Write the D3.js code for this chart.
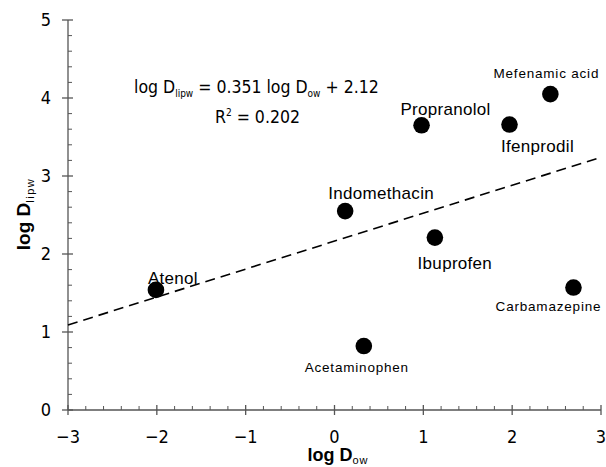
<!DOCTYPE html>
<html>
<head>
<meta charset="utf-8">
<script src="https://cdn.jsdelivr.net/npm/d3@7"></script>
<style>
  body { margin: 0; background: #fff; }
  svg { display: block; }
  .narrow { font-family: "Liberation Sans Narrow", "DejaVu Sans Condensed", "Liberation Sans", sans-serif; }
</style>
</head>
<body>
<div id="chart"></div>
<script>
// drugs, log Dow vs log Dlipw
const drugs = ["Atenol", "Indomethacin", "Acetaminophen", "Ibuprofen", "Propranolol", "Ifenprodil", "Mefenamic acid", "Carbamazepine"];
const logDow = [-2.01, 0.12, 0.33, 1.13, 0.98, 1.97, 2.43, 2.69];
const logDlipw = [1.54, 2.55, 0.82, 2.21, 3.65, 3.66, 4.05, 1.57];

// regression line end points (as drawn)
const fitX = [-3, 3];
const fitY = [1.09, 3.24];

const xTicks = [-3, -2, -1, 0, 1, 2, 3];
const yTicks = [0, 1, 2, 3, 4, 5];

// label placement relative to its dot: [dx, dy, big?]
const labelOffsets = [
  [17, -12, true],
  [36, -18, true],
  [-7, 21, false],
  [20, 25, true],
  [24, -16, true],
  [28, 22, true],
  [-4, -21, false],
  [-25, 19, false]
];

const width = 606, height = 467;
const svg = d3.select("#chart").append("svg")
  .attr("width", width)
  .attr("height", height);

const x = d3.scaleLinear().domain([-3, 3]).range([68, 601]);
const y = d3.scaleLinear().domain([0, 5]).range([410, 20]);

const axisColor = "#555";

// minor ticks (every 0.2), pointing inward
const minorX = d3.range(-3, 3.001, 0.2).filter(v => Math.abs(v - Math.round(v)) > 1e-6);
const minorY = d3.range(0, 5.001, 0.2).filter(v => Math.abs(v - Math.round(v)) > 1e-6);

const axes = svg.append("g").attr("stroke", axisColor).attr("stroke-width", 1.3);
axes.append("line").attr("x1", x(-3)).attr("x2", x(3)).attr("y1", y(0)).attr("y2", y(0));
axes.append("line").attr("x1", x(-3)).attr("x2", x(-3)).attr("y1", y(0)).attr("y2", y(5));

axes.selectAll(".xmaj").data(xTicks).enter().append("line")
  .attr("x1", d => x(d)).attr("x2", d => x(d))
  .attr("y1", y(0) - 5).attr("y2", y(0) + 5);
axes.selectAll(".xmin").data(minorX).enter().append("line")
  .attr("stroke-width", 1)
  .attr("x1", d => x(d)).attr("x2", d => x(d))
  .attr("y1", y(0) - 4).attr("y2", y(0));
axes.selectAll(".ymaj").data(yTicks).enter().append("line")
  .attr("x1", x(-3) - 6).attr("x2", x(-3) + 5)
  .attr("y1", d => y(d)).attr("y2", d => y(d));
axes.selectAll(".ymin").data(minorY).enter().append("line")
  .attr("stroke-width", 1)
  .attr("x1", x(-3)).attr("x2", x(-3) + 4)
  .attr("y1", d => y(d)).attr("y2", d => y(d));

// tick labels
svg.selectAll(".xlab").data(xTicks).enter().append("text")
  .attr("class", "narrow")
  .attr("x", d => x(d)).attr("y", 437).attr("dy", "0.35em")
  .attr("text-anchor", "middle").attr("font-size", 18)
  .text(d => d < 0 ? "\u2212" + Math.abs(d) : d);
svg.selectAll(".ylab").data(yTicks).enter().append("text")
  .attr("class", "narrow")
  .attr("x", 51).attr("y", d => y(d)).attr("dy", "0.35em")
  .attr("text-anchor", "end").attr("font-size", 18)
  .text(d => d);

// axis titles
const xt = svg.append("text")
  .attr("x", 338).attr("y", 455).attr("dy", "0.35em")
  .attr("text-anchor", "middle")
  .attr("font-family", "Liberation Sans, Arial, sans-serif")
  .attr("font-weight", "bold").attr("font-size", 18);
xt.append("tspan").text("log  D");
xt.append("tspan").attr("font-size", 11).attr("font-weight", "normal").attr("dy", 3).attr("letter-spacing", 1).text("ow");

const yt = svg.append("text")
  .attr("transform", "translate(23,214) rotate(-90)")
  .attr("dy", "0.35em")
  .attr("text-anchor", "middle")
  .attr("font-family", "Liberation Sans, Arial, sans-serif")
  .attr("font-weight", "bold").attr("font-size", 19);
yt.append("tspan").text("log  D");
yt.append("tspan").attr("font-size", 11).attr("font-weight", "normal").attr("dy", 4).attr("letter-spacing", 1.5).text("lipw");

// regression line
svg.append("line")
  .attr("x1", x(fitX[0])).attr("y1", y(fitY[0]))
  .attr("x2", x(fitX[1])).attr("y2", y(fitY[1]))
  .attr("stroke", "#000").attr("stroke-width", 1.6)
  .attr("stroke-dasharray", "10,6");

// equation
const eq = svg.append("text").attr("class", "narrow")
  .attr("x", 134).attr("y", 87).attr("dy", "0.35em").attr("font-size", 17.5);
eq.append("tspan").text("log D");
eq.append("tspan").attr("font-size", 10).attr("dy", 4).text("lipw");
eq.append("tspan").attr("dy", -4).text(" = 0.351 log D");
eq.append("tspan").attr("font-size", 10).attr("dy", 4).text("ow");
eq.append("tspan").attr("dy", -4).text(" + 2.12");

const r2 = svg.append("text").attr("class", "narrow")
  .attr("x", 215).attr("y", 117).attr("dy", "0.35em").attr("font-size", 17.5);
r2.append("tspan").text("R");
r2.append("tspan").attr("font-size", 10).attr("dy", -7).text("2");
r2.append("tspan").attr("dy", 7).text(" = 0.202");

// points
svg.selectAll(".dot").data(drugs).enter().append("circle")
  .attr("cx", (d, i) => x(logDow[i]))
  .attr("cy", (d, i) => y(logDlipw[i]))
  .attr("r", 8.3)
  .attr("fill", "#000");

// labels
svg.selectAll(".name").data(drugs).enter().append("text")
  .attr("x", (d, i) => x(logDow[i]) + labelOffsets[i][0])
  .attr("y", (d, i) => y(logDlipw[i]) + labelOffsets[i][1])
  .attr("dy", "0.35em")
  .attr("text-anchor", "middle")
  .attr("font-family", "Liberation Sans, Arial, sans-serif")
  .attr("font-size", (d, i) => labelOffsets[i][2] ? 17 : 13.5)
  .attr("letter-spacing", (d, i) => labelOffsets[i][2] ? 0.3 : 0.8)
  .text(d => d);
</script>
</body>
</html>
